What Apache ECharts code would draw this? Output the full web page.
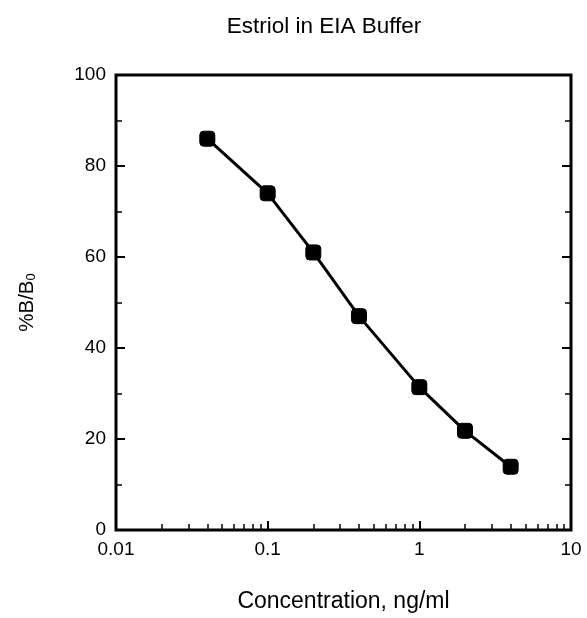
<!DOCTYPE html>
<html><head><meta charset="utf-8">
<script src="https://cdn.jsdelivr.net/npm/echarts@6/dist/echarts.min.js"></script>
<style>html,body{margin:0;padding:0;background:#fff}#c{width:587px;height:618px}</style>
</head><body><div id="c"></div>
<script>
const chartTitle = 'Estriol in EIA Buffer';
const xName = 'Concentration, ng/ml';
const concentrations = [0.04, 0.1, 0.2, 0.4, 1, 2, 4];
const percentBB0 = [86, 74, 61, 47, 31.4, 21.8, 13.9];
const xMajorTicks = [0.01, 0.1, 1, 10];
const xMinorTicks = [0.02, 0.03, 0.04, 0.05, 0.06, 0.07, 0.08, 0.09,
                     0.2, 0.3, 0.4, 0.5, 0.6, 0.7, 0.8, 0.9,
                     2, 3, 4, 5, 6, 7, 8, 9];
const yMajorTicks = [0, 20, 40, 60, 80, 100];

const FONT = '"Liberation Sans", Arial, Helvetica, sans-serif';
const seriesData = concentrations.map((x, i) => [x, percentBB0[i]]);

const chart = echarts.init(document.getElementById('c'), null, {renderer: 'canvas'});
const grid = {left: 116, right: 16, top: 75, bottom: 88, show: true, borderColor: '#000', borderWidth: 3, backgroundColor: 'transparent'};
chart.setOption({
  animation: false,
  backgroundColor: '#fff',
  title: {
    text: chartTitle, left: 319, top: 10, textAlign: 'center',
    textStyle: {fontFamily: FONT, fontSize: 22.5, fontWeight: 'normal', color: '#000'}
  },
  grid: grid,
  xAxis: [
    {
      type: 'log', logBase: 10, min: 0.01, max: 10, position: 'bottom',
      name: xName, nameLocation: 'middle', nameGap: 60,
      nameTextStyle: {fontFamily: FONT, fontSize: 23, color: '#000'},
      axisLine: {show: false},
      axisTick: {show: true, inside: true, length: 9, customValues: xMajorTicks, lineStyle: {color: '#000', width: 2}},
      axisLabel: {show: true, customValues: xMajorTicks, formatter: v => String(+v.toPrecision(3)), margin: 10, fontFamily: FONT, fontSize: 19, color: '#000'},
      splitLine: {show: false}
    },
    {
      type: 'log', logBase: 10, min: 0.01, max: 10, position: 'bottom',
      axisLine: {show: false},
      axisTick: {show: true, inside: true, length: 6, customValues: xMinorTicks, lineStyle: {color: '#000', width: 1.5}},
      axisLabel: {show: false},
      splitLine: {show: false}
    }
  ],
  yAxis: [
    {
      type: 'value', min: 0, max: 100, interval: 20, position: 'left',
      name: '%B/B{sub|0}', nameLocation: 'middle', nameGap: 78, nameRotate: 90,
      nameTextStyle: {fontFamily: FONT, fontSize: 20.5, color: '#000',
        rich: {sub: {fontFamily: FONT, fontSize: 13, color: '#000', verticalAlign: 'bottom', padding: [9, 0, 0, 0]}}},
      axisLine: {show: false},
      axisTick: {show: true, inside: true, length: 9, lineStyle: {color: '#000', width: 2}},
      minorTick: {show: true, splitNumber: 2, length: 6, lineStyle: {color: '#000', width: 1.5}},
      axisLabel: {margin: 10, fontFamily: FONT, fontSize: 19, color: '#000'},
      splitLine: {show: false}
    },
    {
      type: 'value', min: 0, max: 100, interval: 20, position: 'right',
      axisLine: {show: false},
      axisTick: {show: true, inside: true, length: 9, lineStyle: {color: '#000', width: 2}},
      minorTick: {show: true, splitNumber: 2, length: 6, lineStyle: {color: '#000', width: 1.5}},
      axisLabel: {show: false},
      splitLine: {show: false}
    }
  ],
  series: [{
    type: 'line', xAxisIndex: 0, yAxisIndex: 0,
    data: seriesData,
    symbol: 'roundRect', symbolSize: 15,
    lineStyle: {color: '#000', width: 3},
    itemStyle: {color: '#000', borderColor: '#000'},
    z: 5
  }]
});
</script>
</body></html>
